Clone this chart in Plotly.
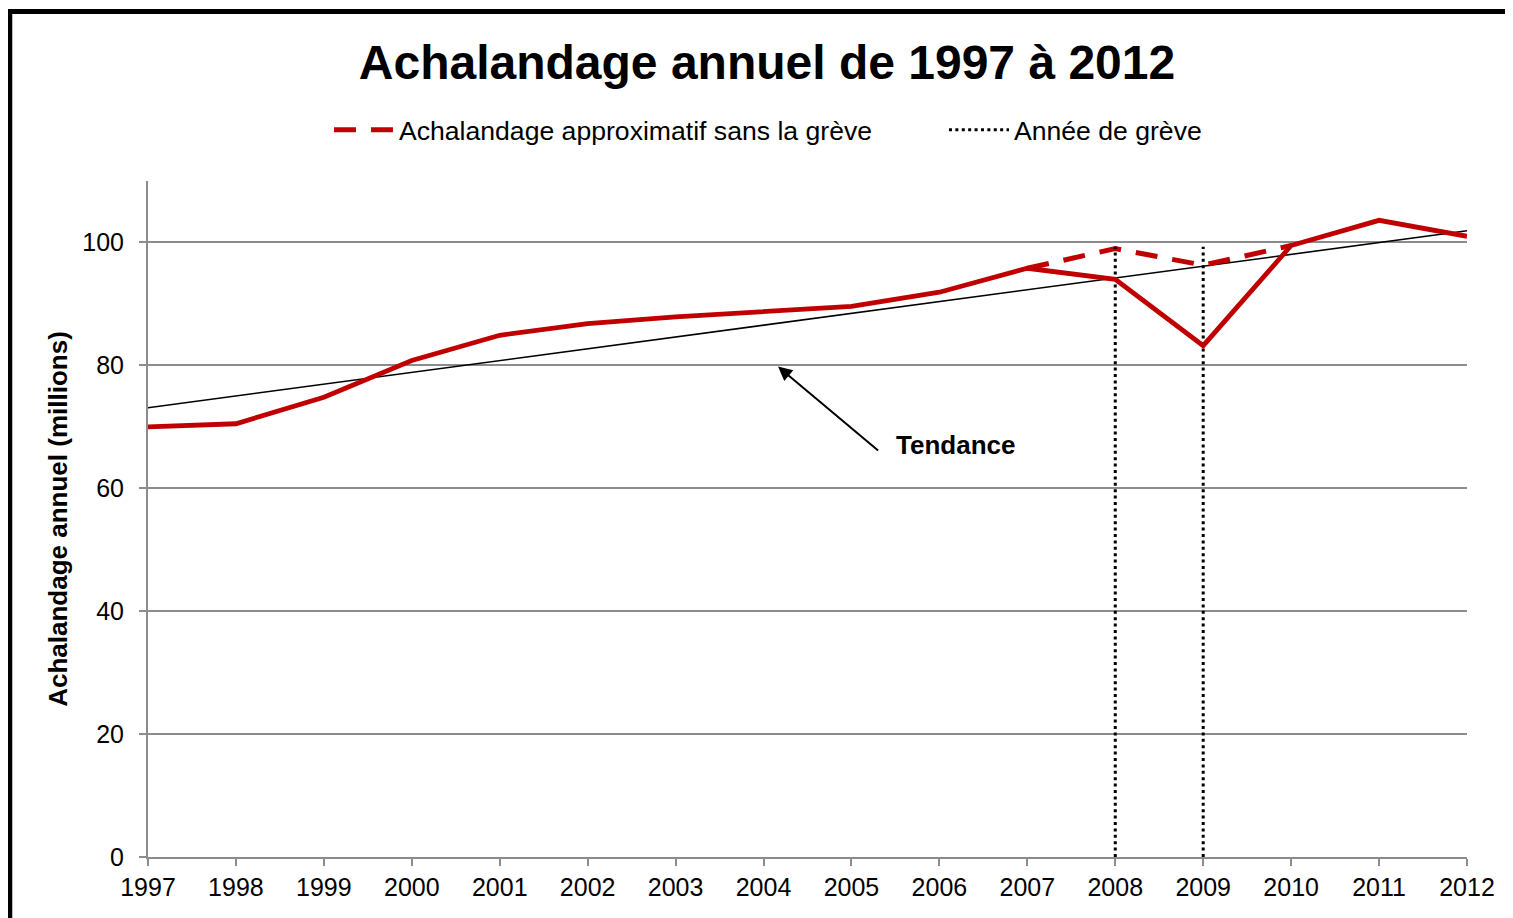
import plotly.graph_objects as go

# ---- data ----
years = [1997, 1998, 1999, 2000, 2001, 2002, 2003, 2004, 2005, 2006, 2007, 2008, 2009, 2010, 2011, 2012]
ridership = [70.0, 70.5, 74.8, 80.8, 84.9, 86.8, 87.9, 88.8, 89.6, 91.9, 95.8, 94.0, 83.2, 99.5, 103.6, 101.0]

approx_years = [2007, 2008, 2009, 2010]
approx_values = [95.8, 99.0, 96.3, 99.5]

trend_years = [1997, 2012]
trend_values = [73.1, 101.9]

strike_years = [2008, 2009]
strike_top = 99.3

tick_years = years
y_ticks = [0, 20, 40, 60, 80, 100]

FONT = "Liberation Sans, Arial, sans-serif"
RED = "#C00000"
GRID = "#8C8C8C"

fig = go.Figure()

# trend line
fig.add_trace(go.Scatter(
    x=trend_years, y=trend_values, mode="lines",
    line=dict(color="black", width=1.6), showlegend=False, hoverinfo="skip"))

# approximate without strike (dashed)
fig.add_trace(go.Scatter(
    x=approx_years, y=approx_values, mode="lines",
    name="Achalandage approximatif sans la grève",
    line=dict(color=RED, width=5, dash="22px,15px")))

# strike years (dotted verticals)
sx, sy = [], []
for yr in strike_years:
    sx += [yr, yr, None]
    sy += [0, strike_top, None]
fig.add_trace(go.Scatter(
    x=sx, y=sy, mode="lines", name="Année de grève",
    line=dict(color="black", width=3, dash="3px,3.4px")))

# actual ridership
fig.add_trace(go.Scatter(
    x=years, y=ridership, mode="lines",
    line=dict(color=RED, width=4.8), showlegend=False))

fig.update_layout(
    width=1513, height=918,
    margin=dict(l=140, r=54, t=173, b=69, autoexpand=False),
    paper_bgcolor="white", plot_bgcolor="white",
    font=dict(family=FONT, size=26, color="black"),
    title=dict(text="Achalandage annuel de 1997 à 2012",
               x=759 / 1513, xref="container", xanchor="center",
               y=1 - 54 / 918, yref="container", yanchor="middle",
               font=dict(family=FONT, size=48, color="black", weight="bold")),
    legend=dict(orientation="h", x=0.1372, xanchor="left",
                y=1.0754, yanchor="middle",
                font=dict(family=FONT, size=26.6, color="black"),
                itemwidth=60, entrywidth=540, bgcolor="rgba(0,0,0,0)"),
    showlegend=True,
)

fig.update_xaxes(
    range=[1997, 2012], tickvals=tick_years, ticktext=[str(y) for y in tick_years],
    showgrid=False, zeroline=False,
    showline=True, linecolor=GRID, linewidth=2,
    ticks="outside", ticklen=7, tickwidth=2, tickcolor=GRID,
    tickfont=dict(family=FONT, size=25, color="black"),
    automargin=False)

fig.update_yaxes(
    range=[0, 110], tickvals=y_ticks,
    showgrid=True, gridcolor=GRID, gridwidth=2, zeroline=False,
    showline=True, linecolor=GRID, linewidth=2,
    ticks="outside", ticklen=7, tickwidth=2, tickcolor=GRID,
    ticklabelstandoff=10,
    tickfont=dict(family=FONT, size=25, color="black"),
    title=dict(text="Achalandage annuel (millions)", standoff=7,
               font=dict(family=FONT, size=26, color="black", weight="bold")),
    automargin=False)

# arrow and label for trend
fig.add_annotation(
    x=2004.165, y=79.8, ax=2005.32, ay=65.96, axref="x", ayref="y",
    xref="x", yref="y", text="", showarrow=True,
    arrowhead=2, arrowsize=1.4, arrowwidth=2, arrowcolor="black")
fig.add_annotation(
    x=2006.18, y=67.1, xref="x", yref="y", text="<b>Tendance</b>",
    showarrow=False, xanchor="center", yanchor="middle",
    font=dict(family=FONT, size=26, color="black"))

# outer frame
fig.add_shape(type="rect", xref="paper", yref="paper",
              x0=-0.1048, x1=1.05, y0=-0.11, y1=1.2507,
              line=dict(color="black", width=5), fillcolor="rgba(0,0,0,0)",
              layer="above")

fig.write_html("out.html")
